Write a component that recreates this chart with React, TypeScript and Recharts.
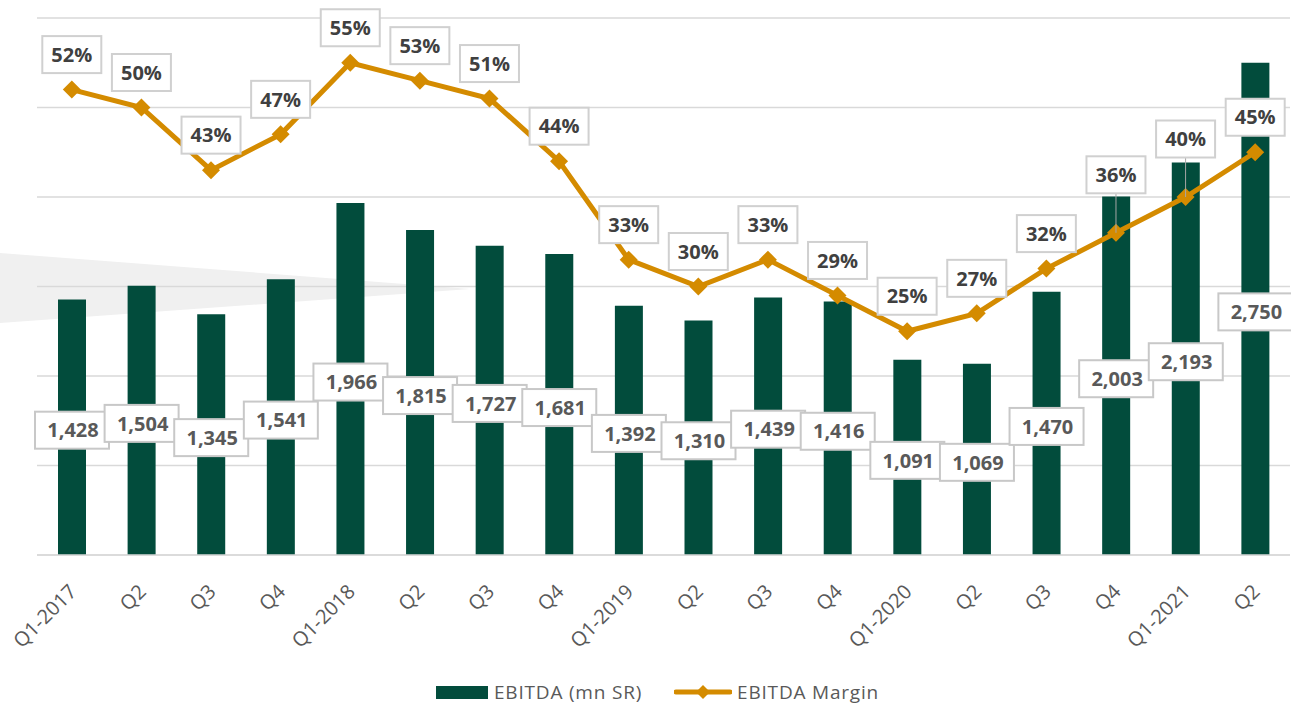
import React from 'react';
import {
  ComposedChart,
  Bar,
  Line,
  XAxis,
  YAxis,
  CartesianGrid,
  LabelList,
  Legend,
} from 'recharts';

const quarters = [
  'Q1-2017', 'Q2', 'Q3', 'Q4',
  'Q1-2018', 'Q2', 'Q3', 'Q4',
  'Q1-2019', 'Q2', 'Q3', 'Q4',
  'Q1-2020', 'Q2', 'Q3', 'Q4',
  'Q1-2021', 'Q2',
];
const ebitda = [
  1428, 1504, 1345, 1541,
  1966, 1815, 1727, 1681,
  1392, 1310, 1439, 1416,
  1091, 1069, 1470, 2003,
  2193, 2750,
];
const ebitdaMargin = [
  52, 50, 43, 47,
  55, 53, 51, 44,
  33, 30, 33, 29,
  25, 27, 32, 36,
  40, 45,
];
const leftTicks = [0, 500, 1000, 1500, 2000, 2500, 3000];

const W = 1291;
const H = 705;
const GREEN = '#024C3C';
const GOLD = '#D48B00';
const GRID = '#D9D9D9';
const FONT = '"Open Sans", sans-serif';

// labels that Excel pushed up with a leader line
const raisedLabels = new Set([15, 16]);

const data = quarters.map((q, i) => ({
  idx: i,
  quarter: q,
  ebitda: ebitda[i],
  margin: ebitdaMargin[i],
}));

function diamond(cx: number, cy: number, r: number) {
  return `${cx},${cy - r} ${cx + r},${cy} ${cx},${cy + r} ${cx - r},${cy}`;
}

function QuarterTick(props: any) {
  const { x, y, payload } = props;
  const ax = x + 6;
  const ay = y + 38;
  return (
    <text
      x={ax}
      y={ay}
      transform={`rotate(-45 ${ax} ${ay})`}
      textAnchor="end"
      fontFamily={FONT}
      fontSize={20}
      fill="#595959"
    >
      {quarters[payload.value]}
    </text>
  );
}

function EbitdaLabel(props: any) {
  const { x, y, width, height, value } = props;
  const cx = x + width / 2;
  const cy = y + height / 2 + 3;
  return (
    <g>
      <rect x={cx - 37} y={cy - 18.5} width={74} height={37} fill="#fff" stroke="#C8C8C8" strokeWidth={2} />
      <text
        x={cx + 1}
        y={cy}
        dy="0.36em"
        textAnchor="middle"
        fontFamily={FONT}
        fontWeight={700}
        fontSize={20}
        fill="#595959"
      >
        {Number(value).toLocaleString('en-US')}
      </text>
    </g>
  );
}

function MarginLabel(props: any) {
  const { x, y, value, index } = props;
  const raised = raisedLabels.has(index);
  const cy = y - (raised ? 58 : 35);
  return (
    <g>
      {raised && <line x1={x} y1={cy + 18} x2={x} y2={y} stroke="#A6A6A6" strokeWidth={1} />}
      <rect x={x - 29.5} y={cy - 18.5} width={59} height={37} fill="#fff" stroke="#D0D0D0" strokeWidth={2} />
      <text
        x={x}
        y={cy}
        dy="0.36em"
        textAnchor="middle"
        fontFamily={FONT}
        fontWeight={700}
        fontSize={20}
        fill="#404040"
      >
        {`${value}%`}
      </text>
    </g>
  );
}

function MarginDot(props: any) {
  const { cx, cy, index } = props;
  return <polygon key={`d-${index}`} points={diamond(cx, cy, 9)} fill={GOLD} />;
}

function LegendContent() {
  const text = { fontFamily: FONT, fontSize: 19, color: '#595959', letterSpacing: 0.8 };
  return (
    <div
      style={{
        display: 'flex',
        justifyContent: 'center',
        alignItems: 'center',
        height: 34,
        paddingTop: 8,
        paddingRight: 12,
        boxSizing: 'border-box',
      }}
    >
      <div style={{ display: 'flex', alignItems: 'center', marginRight: 32 }}>
        <div style={{ width: 52, height: 13, background: GREEN, marginRight: 6 }} />
        <span style={text}>EBITDA (mn SR)</span>
      </div>
      <div style={{ display: 'flex', alignItems: 'center' }}>
        <svg width={58} height={16} style={{ marginRight: 5 }}>
          <line x1={2} y1={8} x2={56} y2={8} stroke={GOLD} strokeWidth={5} strokeLinecap="round" />
          <polygon points={diamond(29, 8, 7)} fill={GOLD} />
        </svg>
        <span style={text}>EBITDA Margin</span>
      </div>
    </div>
  );
}

export default function App() {
  return (
    <div style={{ position: 'absolute', left: 0, top: 0, width: W, height: H, background: '#fff' }}>
      <svg width={W} height={H} style={{ position: 'absolute', left: 0, top: 0 }}>
        <polygon points="0,253 470,289 0,323" fill="#F0F0F0" />
      </svg>
      <div style={{ position: 'absolute', left: 0, top: 0 }}>
        <ComposedChart width={W} height={H} data={data} margin={{ top: 18, right: 1, left: 37, bottom: 0 }}>
          <CartesianGrid yAxisId="left" vertical={false} stroke={GRID} strokeWidth={1.3} />
          <XAxis
            dataKey="idx"
            type="category"
            tick={<QuarterTick />}
            tickLine={false}
            tickSize={0}
            tickMargin={0}
            interval={0}
            height={116}
            axisLine={{ stroke: GRID, strokeWidth: 1.5 }}
          />
          <YAxis yAxisId="left" domain={[0, 3000]} ticks={leftTicks} hide />
          <YAxis yAxisId="right" orientation="right" domain={[0, 60]} hide />
          <Legend verticalAlign="bottom" height={34} content={<LegendContent />} />
          <Bar yAxisId="left" dataKey="ebitda" fill={GREEN} barSize={28} isAnimationActive={false}>
            <LabelList dataKey="ebitda" content={<EbitdaLabel />} />
          </Bar>
          <Line
            yAxisId="right"
            dataKey="margin"
            stroke={GOLD}
            strokeWidth={5}
            dot={MarginDot}
            activeDot={false}
            isAnimationActive={false}
          >
            <LabelList dataKey="margin" content={<MarginLabel />} />
          </Line>
        </ComposedChart>
      </div>
    </div>
  );
}
